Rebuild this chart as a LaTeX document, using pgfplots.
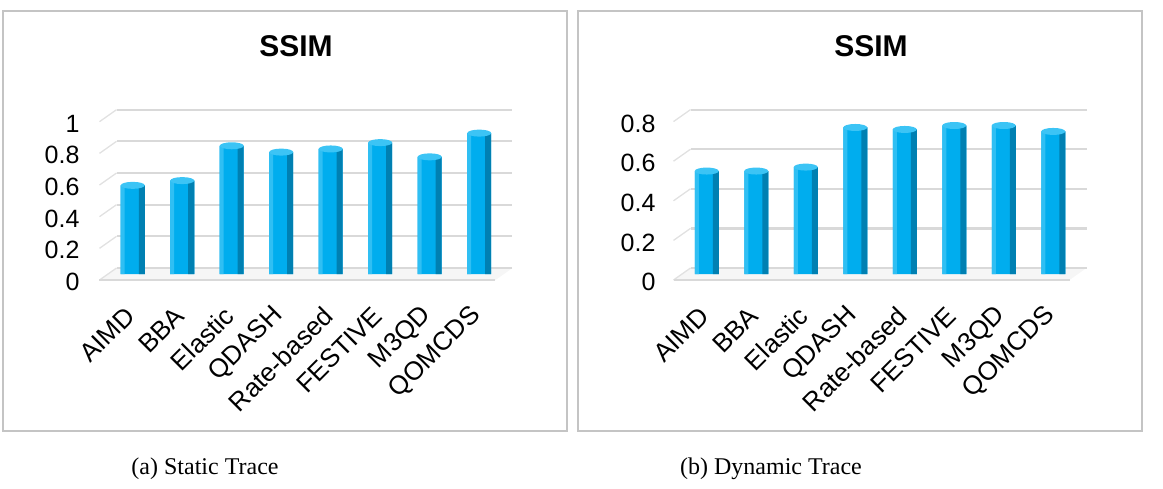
\documentclass[border=0pt]{standalone}
\usepackage{pgfplots}
\usepackage{pgfplotstable}
\pgfplotsset{compat=1.18}
\usepackage{fontspec}
\setmainfont{Liberation Serif}
\newfontfamily\arial{Liberation Sans}
\definecolor{barmain}{HTML}{00ADEE}
\definecolor{barlight}{HTML}{30BFF3}
\definecolor{bardark}{HTML}{0080B2}
\definecolor{capc}{HTML}{3CC4F5}
\definecolor{gridc}{HTML}{D9D9D9}
\definecolor{framec}{HTML}{C4C4C4}
\pgfdeclareplotmark{cap}{\pgfpathellipse{\pgfpointorigin}{\pgfqpoint{12pt}{0pt}}{\pgfqpoint{0pt}{3.5pt}}\pgfusepathqfill}

\pgfplotstableread{
x y
0 0.56
1 0.59
2 0.81
3 0.77
4 0.79
5 0.83
6 0.74
7 0.89
}\staticdata
\pgfplotstableread{
x y
0 0.52
1 0.52
2 0.54
3 0.74
4 0.73
5 0.75
6 0.75
7 0.72
}\dynamicdata

\pgfplotsset{
  ssim/.style={
    scale only axis,
    anchor=south west,
    width=396pt,
    xmin=-0.5, xmax=7.5, ymin=0,
    xtick={0,...,7},
    xticklabels={AIMD,BBA,Elastic,QDASH,Rate-based,FESTIVE,M3QD,QOMCDS},
    axis line style={draw=none},
    major tick length=0pt,
    tick style={draw=none},
    clip=false,
    /pgf/number format/assume math mode=true,
    tick label style={font=\arial\fontsize{25}{25}\selectfont},
    xticklabel style={font=\arial\fontsize{26}{26}\selectfont, xshift=0pt, yshift=-35pt, rotate=45, anchor=east},
  }
}

\newcommand{\perspectivegrid}[1]{%
  \fill[gray!7] ([xshift=-8.5pt,yshift=-6pt]axis cs:-0.5,0) -- ([xshift=-8.5pt,yshift=-6pt]axis cs:7.5,0) -- ([xshift=8.5pt,yshift=6pt]axis cs:7.5,0) -- ([xshift=8.5pt,yshift=6pt]axis cs:-0.5,0) -- cycle;
  \pgfplotsinvokeforeach{#1}{%
    \draw[gridc, line width=2.2pt] ([xshift=8.5pt,yshift=6pt]axis cs:-0.5,##1) -- ([xshift=8.5pt,yshift=6pt]axis cs:7.5,##1);
    \draw[gridc!80, line width=1.3pt] ([xshift=-8.5pt,yshift=-6pt]axis cs:-0.5,##1) -- ([xshift=8.5pt,yshift=6pt]axis cs:-0.5,##1);
  }%
  \draw[gray!30, line width=2pt] ([xshift=-8.5pt,yshift=-6pt]axis cs:-0.5,0) -- ([xshift=-8.5pt,yshift=-6pt]axis cs:7.5,0);
}

\newcommand{\cylbars}[1]{%
  \addplot[ybar, bar width=24pt, bar shift=0pt, draw=none, fill=barmain] table[x=x,y=y]{#1};
  \addplot[ybar, bar width=6pt, bar shift=9pt, draw=none, fill=bardark] table[x=x,y=y]{#1};
  \addplot[ybar, bar width=4pt, bar shift=-10pt, draw=none, fill=barlight] table[x=x,y=y]{#1};
  \addplot[only marks, mark=cap, color=capc, fill=capc] table[x=x,y=y]{#1};
}

\begin{document}
\begin{tikzpicture}
\useasboundingbox (0pt,0pt) rectangle (1163pt,488pt);
% panel frames
\draw[framec, line width=2.5pt] (3pt,57pt) rectangle (567pt,477pt);
\draw[framec, line width=2.5pt] (578pt,57pt) rectangle (1142pt,477pt);

\begin{axis}[ssim, at={(108pt,214pt)}, height=158.3pt, ymax=1,
  ytick={0,0.2,0.4,0.6,0.8,1},
  yticklabel style={anchor=east, xshift=-25pt, yshift=-8pt}]
  \perspectivegrid{0,0.2,0.4,0.6,0.8,1}
  \cylbars{\staticdata}
\end{axis}

\begin{axis}[ssim, at={(682pt,214pt)}, height=158.4pt, ymax=0.8,
  ytick={0,0.2,0.4,0.6,0.8},
  yticklabel style={anchor=east, xshift=-23pt, yshift=-8pt}]
  \perspectivegrid{0,0.2,0.4,0.6,0.8}
  \cylbars{\dynamicdata}
\end{axis}

\node[font=\arial\bfseries\fontsize{30}{30}\selectfont] at (296pt,442pt) {SSIM};
\node[font=\arial\bfseries\fontsize{30}{30}\selectfont] at (871pt,442pt) {SSIM};
\node[font=\fontsize{24}{24}\selectfont] at (205pt,19pt) {(a) Static Trace};
\node[font=\fontsize{24}{24}\selectfont] at (771pt,19pt) {(b) Dynamic Trace};
\end{tikzpicture}
\end{document}
